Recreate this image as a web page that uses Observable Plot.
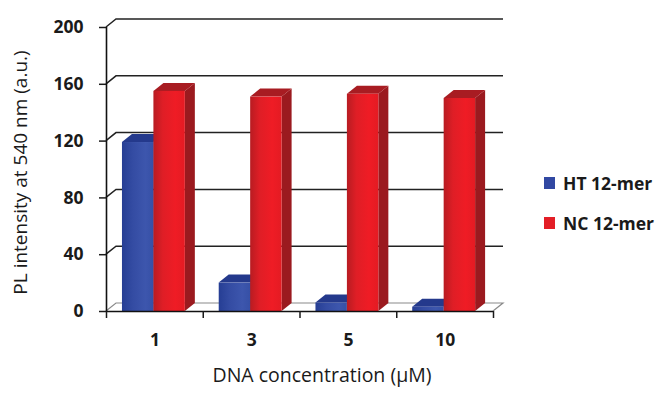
<!DOCTYPE html>
<html><head><meta charset="utf-8">
<script src="https://cdn.jsdelivr.net/npm/d3@7"></script>
<script src="https://cdn.jsdelivr.net/npm/@observablehq/plot@0.6"></script>
<style>
body{margin:0;background:#fff;font-family:"Open Sans",Lato,sans-serif;}
#wrap{position:relative;width:662px;height:394px;}
#legend{position:absolute;left:544px;top:163px;font-size:17.5px;font-weight:bold;color:#1a1a1a;}
.item{display:flex;align-items:center;height:40px;white-space:nowrap;}
.sw{width:11px;height:12px;margin-right:8px;}
</style></head>
<body><div id="wrap"></div>
<script>
// ---- data ----
const categories = ["1", "3", "5", "10"];
const seriesNames = ["HT 12-mer", "NC 12-mer"];
const htValues = [119, 20, 6, 3];
const ncValues = [155, 151, 153, 150];
const yTicks = [0, 40, 80, 120, 160, 200];
const xTitle = "DNA concentration (\u03bcM)";
const yTitle = "PL intensity at 540 nm (a.u.)";

// ---- styles ----
const palette = {
  "HT 12-mer": {front: "url(#gBlue)", side: "#1f3282", top: "#24398c", swatch: "#3148a2"},
  "NC 12-mer": {front: "url(#gRed)", side: "#9b1a1f", top: "#a81c22", swatch: "#e31e26"}
};
const DEPTH_X = 10, DEPTH_Y = -8;   // pixel depth of the 3D effect
const BAR_W = 0.325, PAIR_C = 0.49;
const FONT = "'Open Sans', Lato, sans-serif";

const data = categories.flatMap((c, i) => [
  {cat: c, i, series: seriesNames[0], value: htValues[i]},
  {cat: c, i, series: seriesNames[1], value: ncValues[i]}
]);
data.forEach(d => {
  d.x1 = d.series === seriesNames[0] ? d.i + PAIR_C - BAR_W : d.i + PAIR_C;
  d.x2 = d.x1 + BAR_W;
});

// back wall, grid and floor drawn through the scales
function wall(index, {x, y}) {
  const g = d3.create("svg:g");
  const defs = g.append("defs");
  const grad = (id, stops) => {
    const lg = defs.append("linearGradient").attr("id", id).attr("x1", 0).attr("x2", 1).attr("y1", 0).attr("y2", 0);
    stops.forEach(([o, c]) => lg.append("stop").attr("offset", o).attr("stop-color", c));
  };
  grad("gRed", [[0, "#b81c22"], [0.3, "#df1e26"], [0.7, "#ef1c25"], [1, "#e41b23"]]);
  grad("gBlue", [[0, "#263e94"], [0.35, "#344ca3"], [0.75, "#3d56ad"], [1, "#3650a6"]]);
  const x0 = x(0), xEnd = x(categories.length);
  const yb = y(0);
  g.append("path")
    .attr("d", `M${x0},${yb}L${x0 + DEPTH_X},${yb + DEPTH_Y}L${xEnd + DEPTH_X},${yb + DEPTH_Y}L${xEnd},${yb}`)
    .attr("fill", "#fff").attr("stroke", "#8a8a8a").attr("stroke-width", 1.2);
  for (const t of yTicks.slice(1)) {
    const yt = y(t);
    g.append("path")
      .attr("d", `M${x0},${yt}L${x0 + DEPTH_X},${yt + DEPTH_Y}L${xEnd + DEPTH_X},${yt + DEPTH_Y}`)
      .attr("fill", "none").attr("stroke", "#222").attr("stroke-width", 1.5);
  }
  return g.node();
}

// side and top faces of the 3D bars
function barFaces(index, {x, y}) {
  const g = d3.create("svg:g");
  for (const d of data) {
    const xr = x(d.x2), xl = x(d.x1), yt = y(d.value), y0 = y(0);
    const c = palette[d.series];
    g.append("path")
      .attr("d", `M${xr},${y0}L${xr + DEPTH_X},${y0 + DEPTH_Y}L${xr + DEPTH_X},${yt + DEPTH_Y}L${xr},${yt}Z`)
      .attr("fill", c.side);
    g.append("path")
      .attr("d", `M${xl},${yt}L${xl + DEPTH_X},${yt + DEPTH_Y}L${xr + DEPTH_X},${yt + DEPTH_Y}L${xr},${yt}Z`)
      .attr("fill", c.top);
  }
  return g.node();
}

const chart = Plot.plot({
  width: 662, height: 394,
  marginLeft: 106, marginRight: 169, marginTop: 27, marginBottom: 83,
  style: {fontFamily: FONT, fontSize: "16px", color: "#1a1a1a", background: "#fff"},
  x: {type: "linear", domain: [0, categories.length]},
  y: {domain: [0, 200]},
  marks: [
    wall,
    barFaces,
    Plot.rect(data, {x1: "x1", x2: "x2", y1: 0, y2: "value", fill: d => palette[d.series].front}),
    Plot.ruleX([0], {y1: 0, y2: 200, stroke: "#111", strokeWidth: 1.6}),
    Plot.ruleY([0], {stroke: "#111", strokeWidth: 1.6}),
    Plot.axisY({ticks: yTicks, tickSize: 7, tickPadding: 16, fontSize: 17.5, fontWeight: "bold", label: null, strokeWidth: 1.5}),
    Plot.axisX({ticks: d3.range(categories.length + 1), tickSize: 7, tickFormat: () => "", label: null, strokeWidth: 1.5}),
    Plot.axisX({ticks: categories.map((c, i) => i + 0.5), tickSize: 0, tickPadding: 22, tickFormat: v => categories[Math.floor(v)], fontSize: 17.5, fontWeight: "bold", label: null}),
    Plot.text([xTitle], {frameAnchor: "bottom", dy: 70, dx: 22, fontSize: 19.5, fill: "#1a1a1a"}),
    Plot.text([yTitle], {frameAnchor: "left", textAnchor: "middle", rotate: -90, dx: -86, dy: 3, fontSize: 19, fill: "#1a1a1a"})
  ]
});

const wrap = document.getElementById("wrap");
wrap.appendChild(chart);
const legend = document.createElement("div");
legend.id = "legend";
seriesNames.forEach(s => {
  const item = document.createElement("div");
  item.className = "item";
  const sw = document.createElement("span");
  sw.className = "sw";
  sw.style.background = palette[s].swatch;
  const lab = document.createElement("span");
  lab.textContent = s;
  item.appendChild(sw); item.appendChild(lab);
  legend.appendChild(item);
});
wrap.appendChild(legend);
</script>
</body></html>
